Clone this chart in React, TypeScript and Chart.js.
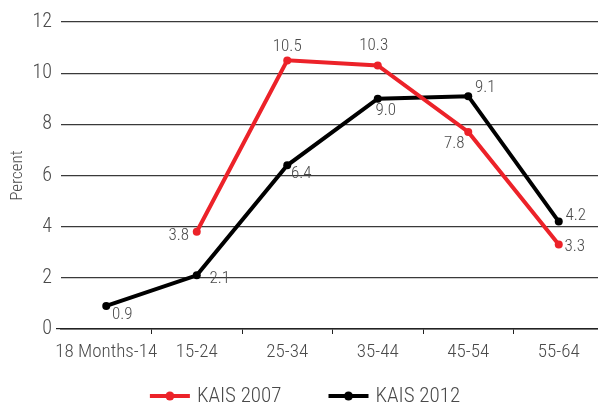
import React, { useEffect, useRef } from "react";
import { Chart, registerables } from "chart.js";

Chart.register(...registerables);

const categories = ["18 Months-14", "15-24", "25-34", "35-44", "45-54", "55-64"];
const kais2007 = [null, 3.8, 10.5, 10.3, 7.7, 3.3];
const kais2007Labels = ["", "3.8", "10.5", "10.3", "7.8", "3.3"];
const kais2012 = [0.9, 2.1, 6.4, 9.0, 9.1, 4.2];
const kais2012Labels = ["0.9", "2.1", "6.4", "9.0", "9.1", "4.2"];
const seriesNames = ["KAIS 2007", "KAIS 2012"];

// label offsets (pixels relative to the point), styling only
const off2007 = [[0, 0], [-18, 4], [0, -14], [-4, -20], [-14, 12], [16, 2]];
const off2012 = [[16, 9], [23, 3], [14, 8], [8, 12], [17, -8], [17, -6]];

const FONT = '"Liberation Sans Narrow", "Roboto Condensed", "DejaVu Sans Condensed", sans-serif';
const TEXT = "#4a4a4a";
const RED = "#ec2229";
const BLACK = "#000000";

const labelPlugin = {
  id: "pointLabels",
  afterDatasetsDraw(chart: any) {
    const ctx = chart.ctx;
    const sets = [
      { labels: kais2007Labels, off: off2007 },
      { labels: kais2012Labels, off: off2012 },
    ];
    ctx.save();
    ctx.font = `300 17px ${FONT}`;
    ctx.fillStyle = TEXT;
    ctx.textAlign = "center";
    ctx.textBaseline = "middle";
    sets.forEach((s, di) => {
      const meta = chart.getDatasetMeta(di);
      meta.data.forEach((pt: any, i: number) => {
        const t = s.labels[i];
        if (!t || pt.skip) return;
        ctx.fillText(t, pt.x + s.off[i][0], pt.y + s.off[i][1]);
      });
    });
    ctx.restore();
  },
};

const customLegend = {
  id: "customLegend",
  afterDraw(chart: any) {
    const ctx = chart.ctx;
    ctx.save();
    ctx.font = `300 21px ${FONT}`;
    ctx.textBaseline = "middle";
    ctx.textAlign = "left";
    const sample = 40;
    const gapText = 7;
    const gapItems = 47;
    const items = chart.data.datasets.map((d: any) => ({
      text: d.label,
      color: d.borderColor,
      w: ctx.measureText(d.label).width,
    }));
    const total = items.reduce((a: number, it: any) => a + sample + gapText + it.w, 0) + gapItems * (items.length - 1);
    let x = chart.width / 2 - total / 2;
    const y = 396;
    items.forEach((it: any) => {
      ctx.strokeStyle = it.color;
      ctx.lineWidth = 4;
      ctx.beginPath();
      ctx.moveTo(x, y);
      ctx.lineTo(x + sample, y);
      ctx.stroke();
      ctx.fillStyle = it.color;
      ctx.beginPath();
      ctx.arc(x + sample / 2, y, 4.5, 0, Math.PI * 2);
      ctx.fill();
      ctx.fillStyle = TEXT;
      ctx.fillText(it.text, x + sample + gapText, y + 1);
      x += sample + gapText + it.w + gapItems;
    });
    ctx.restore();
  },
};

export default function App() {
  const ref = useRef<HTMLCanvasElement>(null);
  useEffect(() => {
    if (!ref.current) return;
    const chart = new Chart(ref.current, {
      type: "line",
      data: {
        labels: categories,
        datasets: [
          {
            label: seriesNames[0],
            data: kais2007,
            borderColor: RED,
            backgroundColor: RED,
            borderWidth: 4,
            pointRadius: 4,
            pointBackgroundColor: RED,
            pointBorderWidth: 0,
            tension: 0,
          },
          {
            label: seriesNames[1],
            data: kais2012,
            borderColor: BLACK,
            backgroundColor: BLACK,
            borderWidth: 4,
            pointRadius: 4,
            pointBackgroundColor: BLACK,
            pointBorderWidth: 0,
            tension: 0,
          },
        ],
      },
      options: {
        responsive: false,
        animation: false,
        layout: { padding: { top: 22, right: 6, left: 0, bottom: 41 } },
        plugins: {
          tooltip: { enabled: false },
          legend: { display: false },
        },
        scales: {
          x: {
            offset: true,
            afterFit: (s: any) => {
              s.height = 37;
            },
            grid: {
              offset: true,
              drawOnChartArea: false,
              tickLength: 5,
              color: (c: any) => (c.index === 0 ? "transparent" : "#222"),
            },
            border: { color: "#222", width: 1.5 },
            ticks: {
              autoSkip: false,
              color: TEXT,
              font: { family: FONT, size: 19, weight: 300 },
              padding: 7,
              maxRotation: 0,
            },
          },
          y: {
            min: 0,
            max: 12,
            afterFit: (s: any) => {
              s.width = 61;
            },
            border: { display: false },
            grid: {
              color: "#3a3a3a",
              lineWidth: 1.2,
              tickLength: 5,
              tickColor: (c: any) => (c.tick && c.tick.value === 0 ? "#222" : "transparent"),
            },
            ticks: { stepSize: 2, color: TEXT, font: { family: FONT, size: 20, weight: 300 }, padding: 4 },
            title: {
              display: true,
              text: "Percent",
              color: TEXT,
              font: { family: FONT, size: 17, weight: 300 },
              padding: { top: 8, bottom: 0 },
            },
          },
        },
      },
      plugins: [labelPlugin, customLegend],
    });
    return () => chart.destroy();
  }, []);
  return (
    <div style={{ position: "fixed", left: 0, top: 0, width: 598, height: 407, overflow: "hidden", background: "#fff" }}>
      <canvas ref={ref} width={610} height={407} style={{ display: "block" }} />
    </div>
  );
}
